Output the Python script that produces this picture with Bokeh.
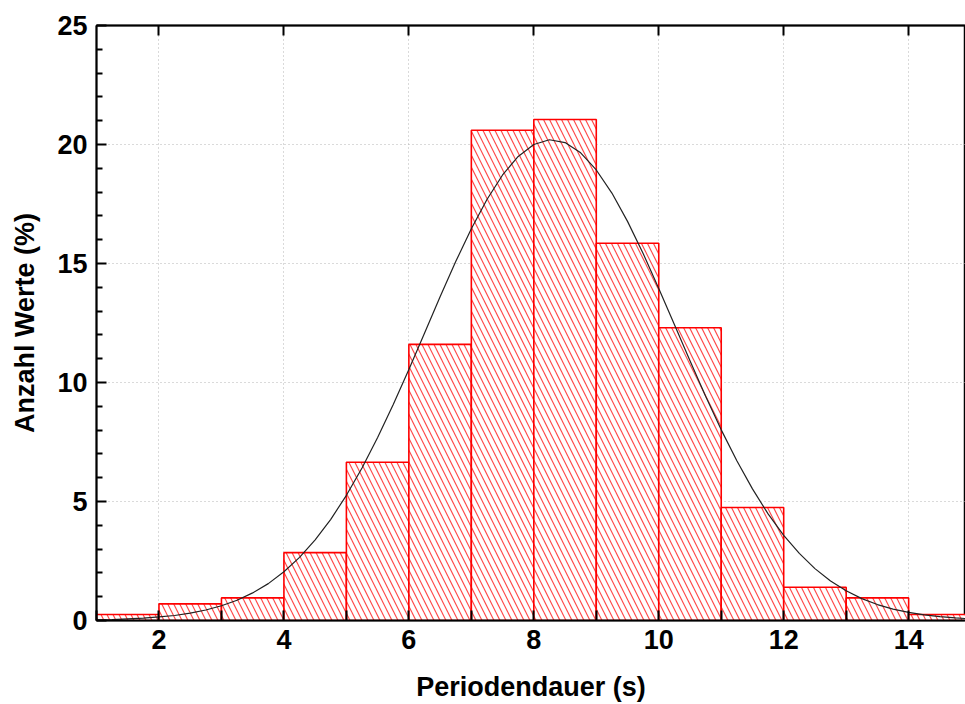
from bokeh.plotting import figure
from bokeh.models import LinearAxis, Range1d, FixedTicker, ColumnDataSource
from bokeh.embed import file_html
from bokeh.resources import INLINE

# Histogram data (bin edges and percentages)
bin_left = [1, 2, 3, 4, 5, 6, 7, 8, 9, 10, 11, 12, 13, 14]
bin_right = [2, 3, 4, 5, 6, 7, 8, 9, 10, 11, 12, 13, 14, 15]
percent = [0.25, 0.7, 0.95, 2.85, 6.65, 11.6, 20.6, 21.05, 15.85, 12.3, 4.75, 1.4, 0.95, 0.25]

# Fitted normal curve
curve_x = [1, 1.25, 1.5, 1.75, 2, 2.25, 2.5, 2.75, 3, 3.25, 3.5, 3.75, 4, 4.25, 4.5, 4.75,
           5, 5.25, 5.5, 5.75, 6, 6.25, 6.5, 6.75, 7, 7.25, 7.5, 7.75, 8, 8.25, 8.5, 8.75,
           9, 9.25, 9.5, 9.75, 10, 10.25, 10.5, 10.75, 11, 11.25, 11.5, 11.75, 12, 12.25,
           12.5, 12.75, 13, 13.25, 13.5, 13.75, 14, 14.25, 14.5, 14.75, 15]
curve_y = [0.03, 0.04, 0.07, 0.10, 0.15, 0.21, 0.31, 0.44, 0.62, 0.85, 1.16, 1.55, 2.05,
           2.65, 3.39, 4.25, 5.26, 6.41, 7.69, 9.08, 10.55, 12.07, 13.6, 15.08, 16.46,
           17.69, 18.72, 19.5, 20.0, 20.2, 20.08, 19.65, 18.93, 17.96, 16.77, 15.42,
           13.95, 12.44, 10.91, 9.42, 8.01, 6.71, 5.53, 4.48, 3.58, 2.82, 2.18, 1.66,
           1.25, 0.92, 0.67, 0.48, 0.34, 0.235, 0.16, 0.108, 0.07]

x_ticks = [2, 4, 6, 8, 10, 12, 14]
x_minor = [1, 3, 5, 7, 9, 11, 13, 15]
y_ticks = [0, 5, 10, 15, 20, 25]
y_minor = [1, 2, 3, 4, 6, 7, 8, 9, 11, 12, 13, 14, 16, 17, 18, 19, 21, 22, 23, 24]

FONT = "Liberation Sans"

p = figure(width=965, height=704, output_backend="svg", toolbar_location=None,
           x_range=Range1d(1, 14.91), y_range=Range1d(0, 25),
           min_border_left=96, min_border_right=0, min_border_top=25, min_border_bottom=84)
p.outline_line_color = "black"
p.outline_line_width = 1.5
p.background_fill_color = "white"

src = ColumnDataSource(dict(left=bin_left, right=bin_right, top=percent,
                            bottom=[0] * len(percent)))
p.quad(left="left", right="right", top="top", bottom="bottom", source=src,
       fill_color="white", line_color="#ff0000", line_width=1.6,
       hatch_pattern="left_diagonal_line", hatch_color="#ff2a2a", hatch_scale=12,
       hatch_weight=1.2, hatch_alpha=0.85)

p.line(curve_x, curve_y, line_color="#222222", line_width=1.2)

# Grid
p.xgrid.ticker = FixedTicker(ticks=x_ticks)
p.ygrid.ticker = FixedTicker(ticks=y_ticks)
for g in (p.xgrid, p.ygrid):
    g.grid_line_color = "#b5b5b5"
    g.grid_line_dash = "1 3"
    g.grid_line_width = 1

# Axes
xa = p.xaxis[0]
xa.ticker = FixedTicker(ticks=x_ticks, minor_ticks=x_minor)
xa.axis_label = "Periodendauer (s)"
ya = p.yaxis[0]
ya.ticker = FixedTicker(ticks=y_ticks, minor_ticks=y_minor)
ya.axis_label = "Anzahl Werte (%)"
for ax in (xa, ya):
    ax.axis_line_color = "black"
    ax.axis_line_width = 2
    ax.major_tick_in = 10
    ax.major_tick_out = 0
    ax.major_tick_line_color = "black"
    ax.major_tick_line_width = 2
    ax.minor_tick_out = 0
    ax.minor_tick_line_color = "black"
    ax.minor_tick_line_width = 2
    ax.major_label_text_font = FONT
    ax.major_label_text_font_style = "bold"
    ax.major_label_text_font_size = "27px"
    ax.major_label_text_color = "black"
    ax.axis_label_text_font = FONT
    ax.axis_label_text_font_style = "bold"
    ax.axis_label_text_font_size = "27px"
    ax.axis_label_text_color = "black"
xa.minor_tick_in = 10
ya.minor_tick_in = 6
xa.major_label_standoff = 9
xa.axis_label_standoff = 20
ya.major_label_standoff = 9
ya.axis_label_standoff = 14

top_axis = LinearAxis(ticker=FixedTicker(ticks=x_ticks),
                      major_label_overrides={t: "" for t in x_ticks},
                      major_tick_in=10, major_tick_out=0, major_tick_line_width=2,
                      major_tick_line_color="black",
                      minor_tick_line_color=None, axis_line_color="black",
                      axis_line_width=2, major_label_standoff=0)
p.add_layout(top_axis, "above")

open("out.html", "w").write(file_html(p, INLINE))
